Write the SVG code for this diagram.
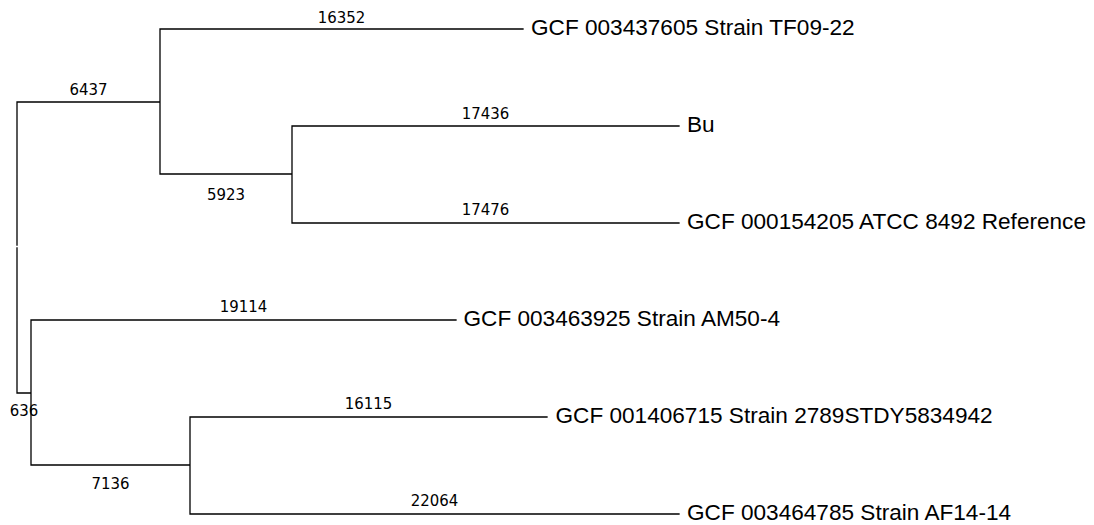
<svg xmlns="http://www.w3.org/2000/svg" width="1094" height="525" viewBox="0 0 1094 525">
<style>
.br{fill:none;stroke:#000;stroke-width:1.3;stroke-linecap:square}
.bl{font-family:"DejaVu Sans Condensed","DejaVu Sans",sans-serif;font-size:16.6px;fill:#000;text-anchor:middle}
.lf{font-family:"Liberation Sans",Arial,sans-serif;font-size:22.6px;fill:#000}
</style>
<rect width="1094" height="525" fill="#fff"/>
<g id="connectors">
<path class="br" d="M17,102V245M17,248V393H31M17,102H160M160,29V174M160,29H523M160,174H292M292,126V223M292,126H679M292,223H679M31,320V465M31,320H456M31,465H190M190,417V514M190,417H547M190,514H679"/>
</g>
<g id="branch-labels">
<text class="bl" x="88.5" y="95">6437</text>
<text class="bl" x="341.5" y="22.5">16352</text>
<text class="bl" x="226" y="200">5923</text>
<text class="bl" x="485.5" y="119">17436</text>
<text class="bl" x="485.5" y="215">17476</text>
<text class="bl" x="24" y="416">636</text>
<text class="bl" x="243.5" y="312">19114</text>
<text class="bl" x="110.5" y="489">7136</text>
<text class="bl" x="368.5" y="409">16115</text>
<text class="bl" x="434.5" y="506">22064</text>
</g>
<g id="leaf-TF09-22"><text class="lf" x="531" y="35">GCF 003437605 Strain TF09-22</text></g>
<g id="leaf-Bu"><text class="lf" x="687" y="132">Bu</text></g>
<g id="leaf-ATCC8492"><text class="lf" x="687" y="229">GCF 000154205 ATCC 8492 Reference</text></g>
<g id="leaf-AM50-4"><text class="lf" x="463.5" y="326">GCF 003463925 Strain AM50-4</text></g>
<g id="leaf-2789STDY5834942"><text class="lf" x="555.5" y="422.5">GCF 001406715 Strain 2789STDY5834942</text></g>
<g id="leaf-AF14-14"><text class="lf" x="687" y="520">GCF 003464785 Strain AF14-14</text></g>
</svg>
